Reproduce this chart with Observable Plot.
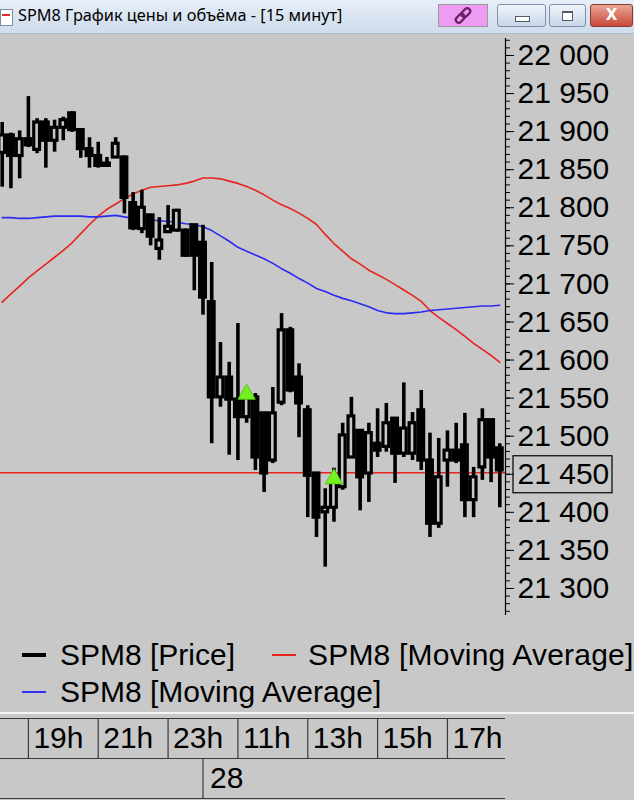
<!DOCTYPE html>
<html><head><meta charset="utf-8">
<script src="https://cdn.jsdelivr.net/npm/d3@7"></script>
<script src="https://cdn.jsdelivr.net/npm/@observablehq/plot@0.6"></script>
<style>
html,body{margin:0;padding:0;}
body{background:#c8c8c8;width:634px;height:800px;overflow:hidden;position:relative;font-family:"Liberation Sans",Arial,sans-serif;}
#tb{position:absolute;left:0;top:0;width:634px;height:33px;background:linear-gradient(#e6eef8,#cfdcec);border-bottom:1px solid #aebdd0;}
#icon{position:absolute;left:0;top:9px;width:11px;height:15px;background:#fff;border:1px solid #7b8ca5;}
#icon:after{content:"";position:absolute;left:1px;top:4px;width:8px;height:2px;background:#e0302a;}
#ttl{position:absolute;left:18px;top:4px;font-family:"Noto Sans",sans-serif;font-size:16.3px;color:#000;white-space:nowrap;}
.btn{position:absolute;top:4px;height:23px;border:1px solid #7f8fa8;border-radius:3px;box-sizing:border-box;background:linear-gradient(#f1f5fb,#c9d5e6);}
#link{left:438px;width:50px;background:#ee9cf2;border-color:#9a9a9a;border-radius:0;}
#min{left:497px;width:49px;}
#max{left:549px;width:37px;}
#cls{left:590px;width:43px;background:linear-gradient(#e9a596,#c8493a);border-color:#8a3a30;color:#fff;font:bold 15px "DejaVu Sans",sans-serif;text-align:center;line-height:21px;}
#min:after{content:"";position:absolute;left:17px;top:11px;width:13px;height:4px;border:1px solid #505a6a;background:#fff;}
#max:after{content:"";position:absolute;left:12px;top:6px;width:9px;height:7px;border:1px solid #505a6a;border-top-width:2px;background:#fff;}
#main{position:absolute;left:0;top:34px;}
.lg{position:absolute;font-size:30px;line-height:30px;color:#000;white-space:nowrap;}
.dash{position:absolute;width:24px;}
#sep{position:absolute;left:0;top:712px;width:634px;height:2px;background:#f4f4f4;}
#taxis{position:absolute;left:0;top:714px;}
</style></head><body>
<div id="tb">
  <div id="icon"></div>
  <div id="ttl">SPM8 График цены и объёма - [15 минут]</div>
  <div class="btn" id="link"><svg width="48" height="21" viewBox="0 0 48 21"><g transform="translate(24,10.5) rotate(-45)" fill="none" stroke="#6a1f66" stroke-width="2.2"><rect x="-9" y="-3" width="10" height="6" rx="3"/><rect x="-1" y="-3" width="10" height="6" rx="3"/></g></svg></div>
  <div class="btn" id="min"></div>
  <div class="btn" id="max"></div>
  <div class="btn" id="cls">X</div>
</div>
<div id="main"></div>
<div class="dash" style="left:22px;top:653px;height:4px;background:#000;"></div>
<div class="lg" style="left:60px;top:640px;">SPM8 [Price]</div>
<div class="dash" style="left:272px;top:654px;height:2px;background:#e8241f;"></div>
<div class="lg" style="left:308px;top:640px;letter-spacing:0.2px;">SPM8 [Moving Average]</div>
<div class="dash" style="left:22px;top:691px;height:2px;background:#3030ee;"></div>
<div class="lg" style="left:60px;top:677px;">SPM8 [Moving Average]</div>
<div id="sep"></div>
<div id="taxis"></div>
<script>
// 15-minute candles, index 0 = 18:15 (27th) ... index 57 = 18:30 (28th)
const openP  = [21872,21895,21868,21890,21876,21912,21888,21905,21924,21902,21877,21868,21855,21866,21866,21806,21772,21790,21746,21768,21770,21770,21777,21754,21676,21551,21577,21548,21525,21551,21530,21468,21544,21639,21577,21534,21451,21400,21406,21433,21472,21507,21451,21490,21486,21523,21477,21477,21534,21468,21385,21468,21481,21488,21416,21459,21521,21484];
const highP  = [21912,21898,21901,21946,21917,21917,21915,21919,21926,21904,21892,21886,21866,21892,21868,21820,21823,21790,21787,21803,21798,21772,21777,21777,21728,21623,21597,21648,21564,21556,21530,21564,21661,21643,21595,21540,21452,21431,21458,21517,21551,21507,21517,21536,21543,21523,21570,21531,21560,21504,21497,21507,21517,21530,21459,21536,21521,21490];
const lowP   = [21827,21825,21838,21879,21871,21852,21873,21888,21899,21865,21852,21852,21853,21865,21792,21770,21766,21750,21731,21766,21768,21735,21691,21659,21490,21538,21475,21468,21517,21455,21426,21464,21540,21557,21498,21393,21367,21328,21387,21429,21471,21402,21413,21472,21479,21438,21472,21468,21455,21367,21379,21433,21464,21393,21393,21442,21439,21406];
const closeP = [21895,21868,21890,21882,21912,21888,21905,21915,21902,21877,21868,21855,21858,21884,21813,21773,21800,21762,21757,21775,21796,21737,21737,21682,21551,21577,21548,21525,21551,21472,21451,21530,21639,21560,21543,21448,21393,21406,21439,21501,21526,21446,21504,21481,21517,21477,21510,21517,21468,21385,21446,21481,21468,21416,21446,21521,21472,21455];
const maRed  = [21676,21687,21697,21708,21717,21726,21735,21744,21754,21766,21778,21789,21798,21805,21812,21818,21823,21827,21828,21829,21830,21832,21835,21839,21839,21838,21835,21832,21828,21823,21817,21810,21804,21799,21793,21786,21778,21765,21753,21743,21733,21726,21718,21712,21706,21699,21692,21685,21677,21665,21656,21648,21640,21631,21622,21614,21606,21597];
const maBlue = [21787,21787,21786,21786,21787,21788,21789,21789,21789,21789,21788,21788,21789,21790,21788,21786,21785,21784,21783,21782,21781,21779,21778,21775,21770,21763,21756,21748,21743,21738,21733,21727,21720,21714,21707,21701,21694,21690,21685,21681,21678,21674,21670,21665,21662,21661,21661,21662,21663,21665,21666,21667,21668,21669,21670,21671,21671,21672];
const signalIndex = [28, 38];
const signalPrice = [21555, 21444];
const lastPrice = 21452;
const priceTicks = [22000,21950,21900,21850,21800,21750,21700,21650,21600,21550,21500,21450,21400,21350,21300];
const boxedTick = 21450;
const hourLabels = ["19h","21h","23h","11h","13h","15h","17h"];
const hourIndex  = [3,11,19,27,35,43,51];
const dayLabels  = ["28"];
const dayIndex   = [23];

const idx = d3.range(openP.length);
const xDomain = [-0.195, 57.65];
const yDomain = [21264.5, 22022.3];
const minorTicks = d3.range(21270, 22021, 10);
const fmt = d => d3.format(",")(d).replace(",", " ");
const BG = "#c8c8c8";

const chart = Plot.plot({
  width: 634, height: 586,
  marginLeft: 0, marginRight: 129, marginTop: 4, marginBottom: 5,
  x: {domain: xDomain, axis: null},
  y: {domain: yDomain},
  style: {background: "transparent", fontFamily: "'Liberation Sans', Arial, sans-serif", fontSize: "30px", color: "#000", overflow: "visible"},
  marks: [
    Plot.ruleY([lastPrice], {stroke: "#e8241f", strokeWidth: 1.6}),
    Plot.lineY(idx, {x: i => i, y: i => maRed[i], stroke: "#e8241f", strokeWidth: 1.6}),
    Plot.lineY(idx, {x: i => i, y: i => maBlue[i], stroke: "#2a2af0", strokeWidth: 1.6}),
    Plot.ruleX(idx, {x: i => i, y1: i => lowP[i], y2: i => highP[i], stroke: "#000", strokeWidth: 3.6}),
    Plot.rect(idx, {x1: i => i - 0.33, x2: i => i + 0.33, y1: i => Math.min(openP[i], closeP[i]), y2: i => Math.max(openP[i], closeP[i]), fill: i => closeP[i] >= openP[i] ? BG : "#000", stroke: "#000", strokeWidth: 3.2}),
    Plot.dot(signalIndex, {x: d => d, y: (d, i) => signalPrice[i], symbol: "triangle", r: 6.5, fill: "#74f21e", stroke: "#4fc012", strokeWidth: 0.8}),
    Plot.axisY({anchor: "right", ticks: minorTicks, tickSize: 4, fill: "none", stroke: "#000", label: null}),
    Plot.axisY({anchor: "right", ticks: priceTicks, tickSize: 8, tickPadding: 4, tickFormat: fmt, fill: "#000", stroke: "#000", label: null}),
    Plot.ruleX([xDomain[1]], {stroke: "#000", strokeWidth: 1.2})
  ]
});
document.getElementById("main").append(chart);
// box around the current-price tick label
{
  const yb = chart.scale("y").apply(boxedTick);
  const xb = chart.scale("x").apply(xDomain[1]) + 8;
  d3.select(chart).append("rect").attr("x", xb).attr("y", yb - 18).attr("width", 99).attr("height", 37)
    .attr("fill", "none").attr("stroke", "#000").attr("stroke-width", 1.2);
}

const taxis = Plot.plot({
  width: 634, height: 86,
  marginLeft: 0, marginRight: 129, marginTop: 4, marginBottom: 2,
  x: {domain: xDomain, axis: null},
  y: {domain: [2, 0], axis: null},
  style: {background: "transparent", fontFamily: "'Liberation Sans', Arial, sans-serif", fontSize: "30px", color: "#000", overflow: "visible"},
  marks: [
    Plot.ruleY([0, 1, 2], {stroke: "#3a3a3a", strokeWidth: 1.2}),
    Plot.ruleX(hourIndex, {x: d => d, y1: 0, y2: 1, stroke: "#3a3a3a", strokeWidth: 1.2}),
    Plot.ruleX(dayIndex, {x: d => d, y1: 1, y2: 2, stroke: "#3a3a3a", strokeWidth: 1.2}),
    Plot.text(hourIndex, {x: d => d, y: 0.5, text: (d, i) => hourLabels[i], textAnchor: "start", dx: 5, fill: "#000"}),
    Plot.text(dayIndex, {x: d => d, y: 1.5, text: (d, i) => dayLabels[i], textAnchor: "start", dx: 7, fill: "#000"})
  ]
});
document.getElementById("taxis").append(taxis);
</script>
</body></html>
